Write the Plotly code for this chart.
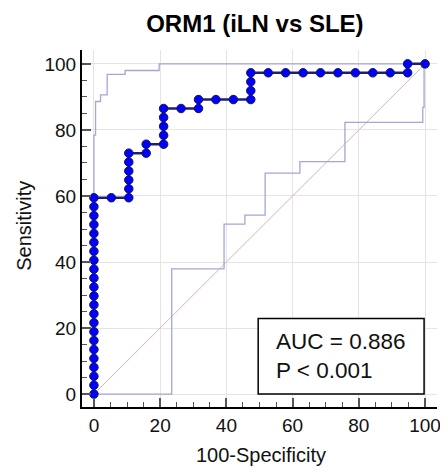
import plotly.graph_objects as go

# ROC curve points (100-Specificity, Sensitivity)
roc_x = [0] * 23 + [5.26] + [10.53] * 6 + [15.79, 15.79] + [21.05] * 5 + \
        [26.32, 31.58, 31.58, 36.84, 42.11, 47.37, 47.37, 47.37, 47.37,
         52.63, 57.89, 63.16, 68.42, 73.68, 78.95, 84.21, 89.47, 94.74, 94.74, 100]
roc_y = [0, 2.70, 5.41, 8.11, 10.81, 13.51, 16.22, 18.92, 21.62, 24.32, 27.03, 29.73,
         32.43, 35.14, 37.84, 40.54, 43.24, 45.95, 48.65, 51.35, 54.05, 56.76, 59.46,
         59.46,
         59.46, 62.16, 64.86, 67.57, 70.27, 72.97,
         72.97, 75.68,
         75.68, 78.38, 81.08, 83.78, 86.49,
         86.49, 86.49, 89.19, 89.19, 89.19, 89.19, 91.89, 94.59, 97.30,
         97.30, 97.30, 97.30, 97.30, 97.30, 97.30, 97.30, 97.30, 97.30, 100, 100]

# confidence bounds
upper_x = [0, 0, 0.5, 0.5, 2.0, 2.0, 4.0, 4.0, 9.4, 9.4, 19.7, 19.7, 100]
upper_y = [0, 78.4, 78.4, 88.6, 88.6, 90.6, 90.6, 96.8, 96.8, 98.0, 98.0, 100, 100]
lower_x = [0, 23.5, 23.5, 39.3, 39.3, 45.6, 45.6, 51.7, 51.7, 62.2, 62.2, 75.8, 75.8,
           99.3, 99.3, 99.7, 99.7, 100]
lower_y = [0, 0, 37.9, 37.9, 51.5, 51.5, 54.2, 54.2, 66.9, 66.9, 70.4, 70.4, 82.3,
           82.3, 86.8, 86.8, 100, 100]

diag = [0, 100]
stats_text = "AUC = 0.886<br>P &lt; 0.001"

band_color = "rgb(165,165,215)"
font = "Arial, Liberation Sans, sans-serif"

fig = go.Figure()
fig.add_trace(go.Scatter(x=diag, y=diag, mode="lines",
                         line=dict(color="rgb(228,175,180)", width=1)))
fig.add_trace(go.Scatter(x=upper_x, y=upper_y, mode="lines",
                         line=dict(color=band_color, width=1.3)))
fig.add_trace(go.Scatter(x=lower_x, y=lower_y, mode="lines",
                         line=dict(color=band_color, width=1.3)))
fig.add_trace(go.Scatter(x=roc_x, y=roc_y, mode="lines+markers",
                         line=dict(color="rgb(30,30,120)", width=2.5),
                         marker=dict(color="rgb(0,0,255)", size=8.5,
                                     line=dict(color="rgb(20,20,90)", width=1))))

# stats box
fig.add_shape(type="rect", x0=49.6, x1=99.7, y0=0, y1=22.9, layer="above",
              line=dict(color="black", width=1.5), fillcolor="white")
fig.add_annotation(x=54.4, y=11.4, text=stats_text, showarrow=False,
                   xanchor="left", yanchor="middle", align="left",
                   font=dict(family=font, size=22.5, color="#111"))

# axis titles
fig.add_annotation(x=0.504, y=-0.134, xref="paper", yref="paper", text="100-Specificity",
                   showarrow=False, xanchor="center", yanchor="middle",
                   font=dict(family=font, size=20, color="#111"))
fig.add_annotation(x=-0.163, y=0.508, xref="paper", yref="paper", text="Sensitivity",
                   showarrow=False, xanchor="center", yanchor="middle", textangle=-90,
                   font=dict(family=font, size=20, color="#111"))

axis_common = dict(
    dtick=20, tick0=0, showgrid=True, gridcolor="rgb(228,228,228)", gridwidth=1,
    zeroline=False, showline=True, linecolor="black", linewidth=2,
    ticks="inside", ticklen=9, tickwidth=1.5, tickcolor="#555",
    minor=dict(dtick=5, ticks="inside", ticklen=5, tickwidth=1, tickcolor="#555",
               showgrid=False),
    tickfont=dict(family=font, size=19, color="#111"),
    automargin=False,
)

# page body has an 8px margin, so the figure is a bit smaller than the window
fig.update_layout(
    width=440, height=465,
    margin=dict(l=74, r=11, t=42, b=66),
    plot_bgcolor="white", paper_bgcolor="white",
    showlegend=False,
    title=dict(text="<b>ORM1 (iLN vs SLE)</b>", x=0.487, xref="paper", xanchor="center",
               y=0.966, yanchor="middle",
               font=dict(family=font, size=24, color="black")),
)
fig.update_xaxes(range=[-3.6, 103.6], **axis_common)
fig.update_yaxes(range=[-3.9, 104.2], **axis_common)

fig.write_html("out.html")
